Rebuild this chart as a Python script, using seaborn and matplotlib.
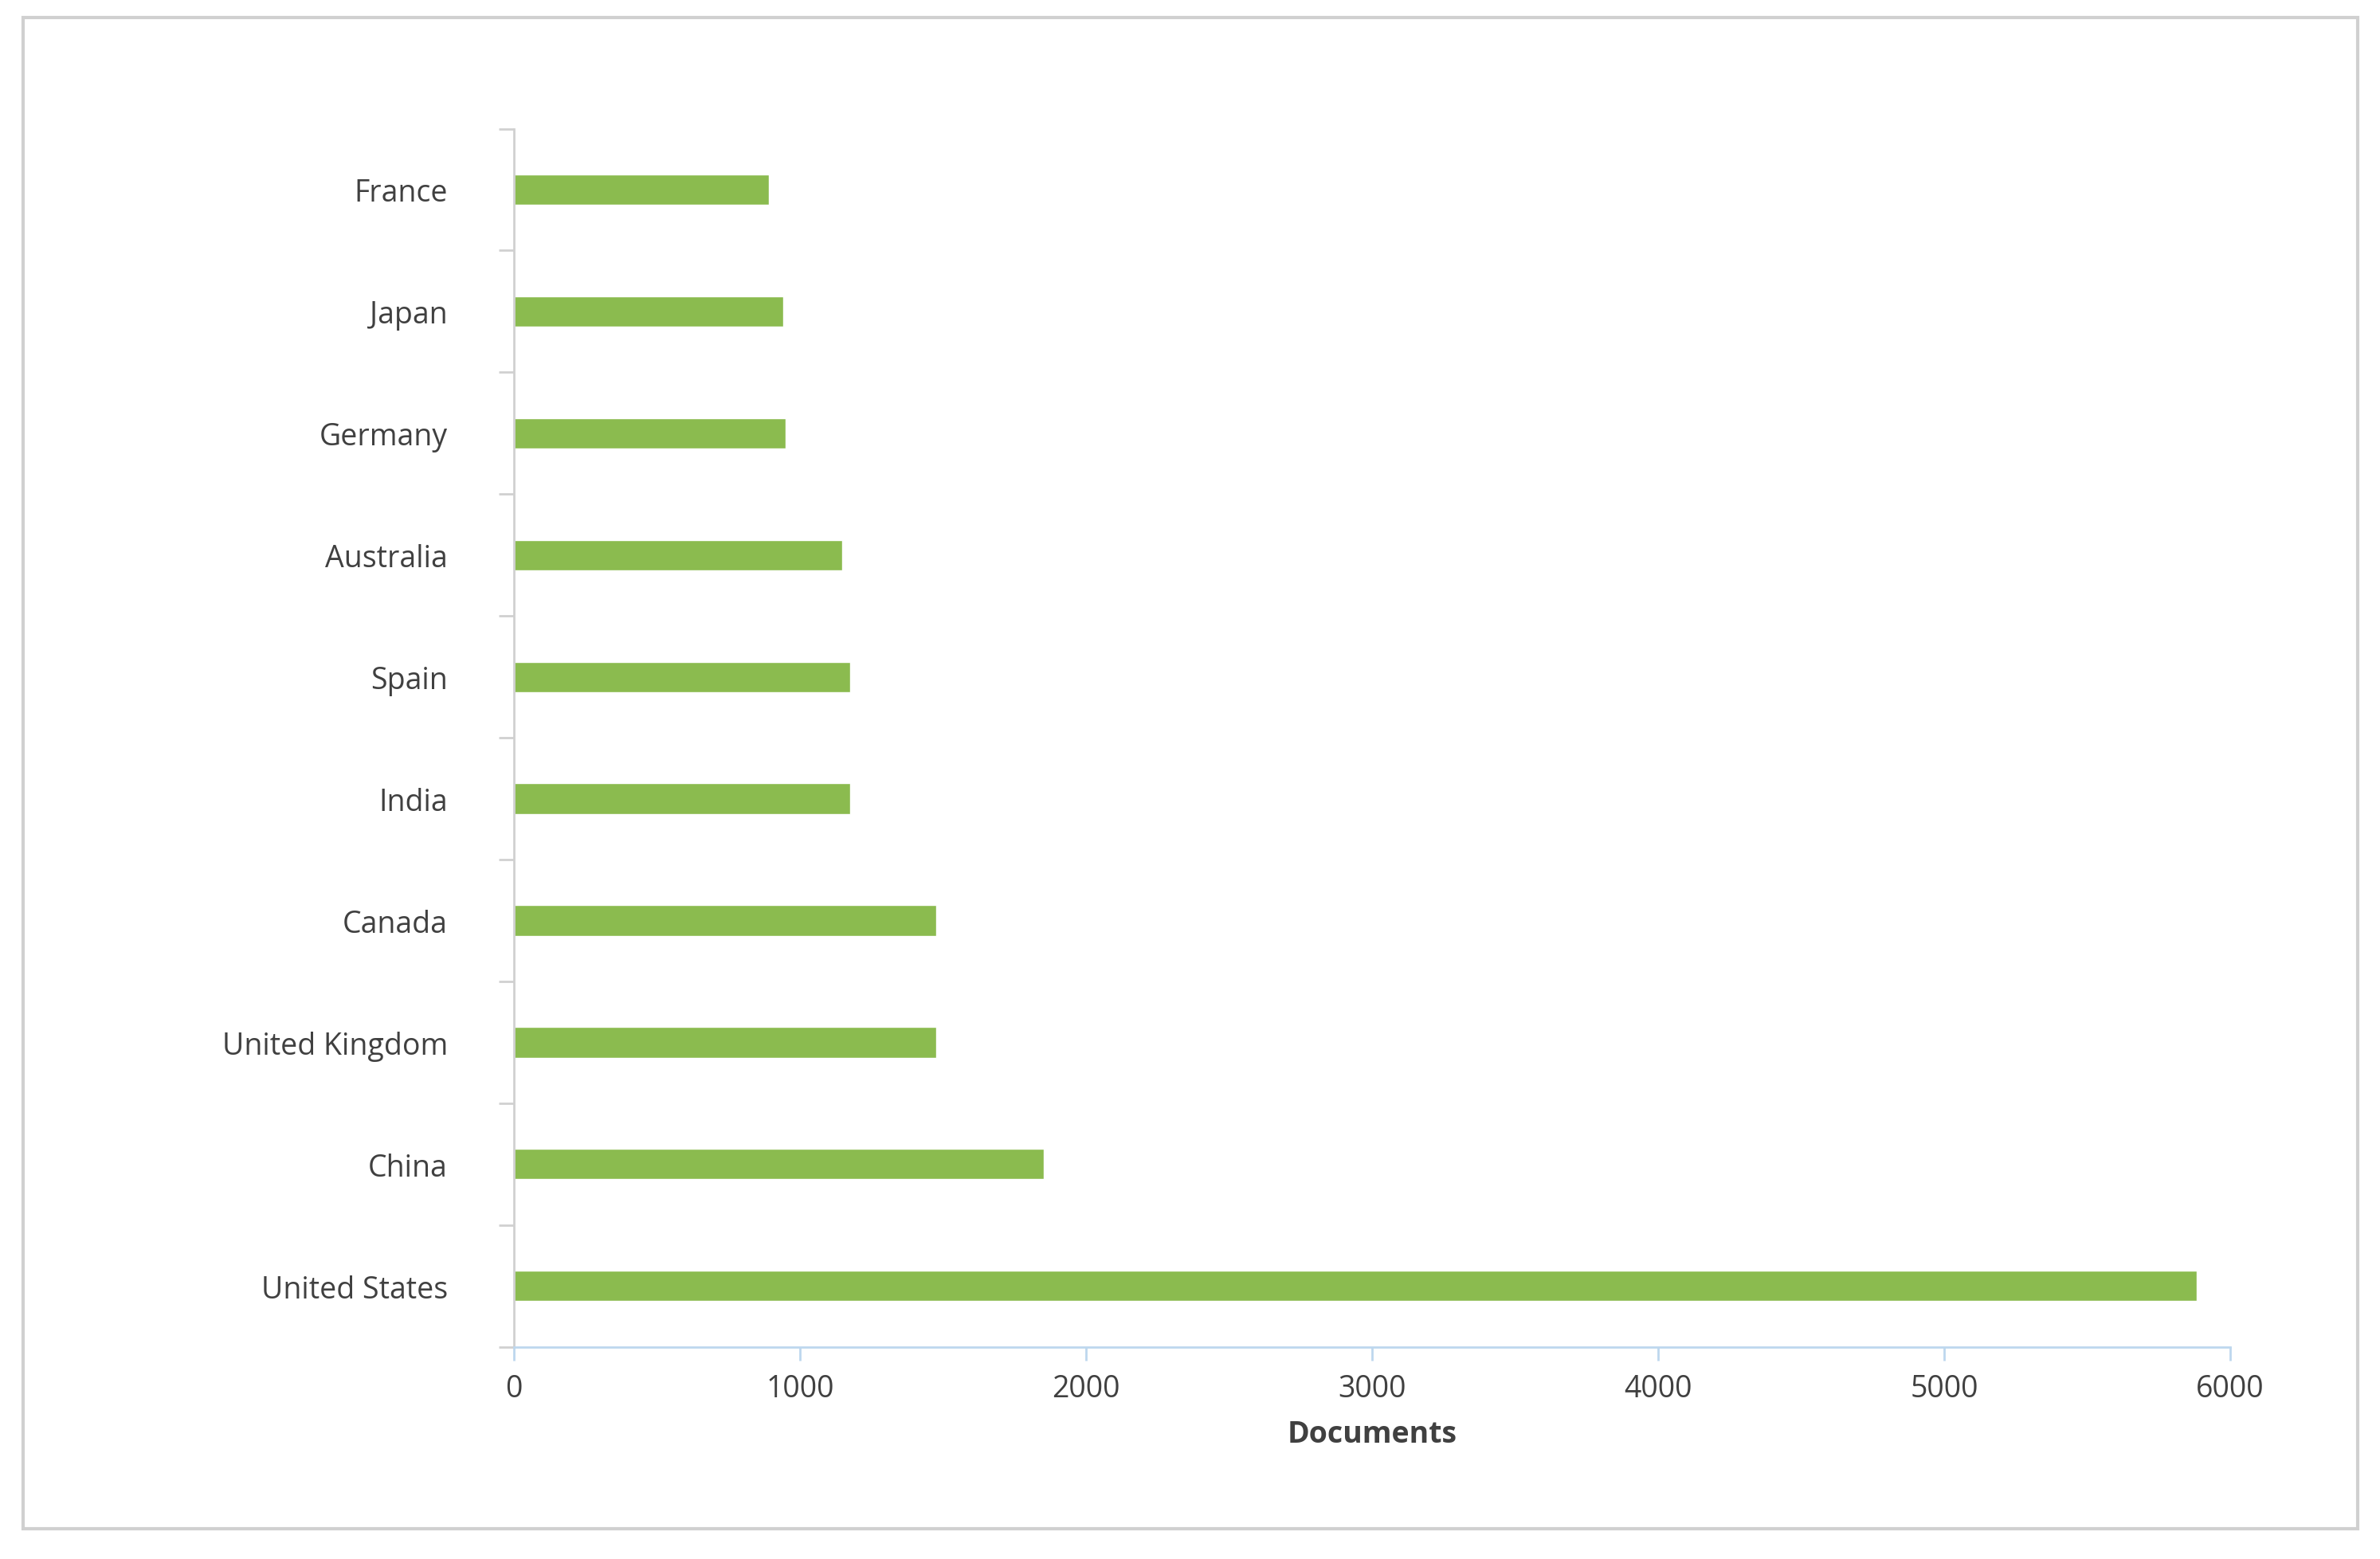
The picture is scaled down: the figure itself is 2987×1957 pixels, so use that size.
import seaborn as sns
import matplotlib.pyplot as plt
import pandas as pd
from matplotlib.patches import Rectangle

countries = ["France", "Japan", "Germany", "Australia", "Spain", "India",
             "Canada", "United Kingdom", "China", "United States"]
documents = [892, 940, 950, 1147, 1174, 1174, 1476, 1476, 1853, 5884]
x_ticks = [0, 1000, 2000, 3000, 4000, 5000, 6000]

df = pd.DataFrame({"country": countries, "documents": documents})

sns.set_style("white")
plt.rcParams["font.family"] = ["Open Sans", "DejaVu Sans"]

fig = plt.figure(figsize=(29.87, 19.58), dpi=100)
fig.patches.append(Rectangle((0.0096, 0.0195), 0.981, 0.969, transform=fig.transFigure,
                             fill=False, edgecolor="#d0d0d0", linewidth=3))
ax = fig.add_axes([0.216, 0.136, 0.721, 0.781])

sns.barplot(data=df, x="documents", y="country", color="#8bbb4f", width=0.25,
            saturation=1, ax=ax)

ax.set_xlim(0, 6000)
ax.set_ylim(len(countries) - 0.5, -0.5)
ax.set_xticks(x_ticks)
ax.set_xticklabels([str(t) for t in x_ticks])
ax.set_xticks([t + 0.0 for t in x_ticks], minor=False)
ax.set_yticks(range(len(countries)))
ax.set_yticks([i - 0.5 for i in range(len(countries) + 1)], minor=True)
ax.tick_params(axis="y", which="major", length=0, pad=60, labelsize=27, labelcolor="#404040")
ax.tick_params(axis="y", which="minor", length=14, width=2, color="#d0d0d0", left=True)
ax.tick_params(axis="x", which="major", length=12, width=2, color="#bdd7ee", bottom=True,
               pad=12, labelsize=27, labelcolor="#404040")

for s in ["top", "right"]:
    ax.spines[s].set_visible(False)
ax.spines["left"].set_color("#d0d0d0")
ax.spines["left"].set_linewidth(2)
ax.spines["bottom"].set_color("#bdd7ee")
ax.spines["bottom"].set_linewidth(2)

ax.set_ylabel("")
ax.set_xlabel("Documents", fontsize=27, fontweight="bold", color="#404040", labelpad=14)

fig.savefig("out.png", dpi=100)
